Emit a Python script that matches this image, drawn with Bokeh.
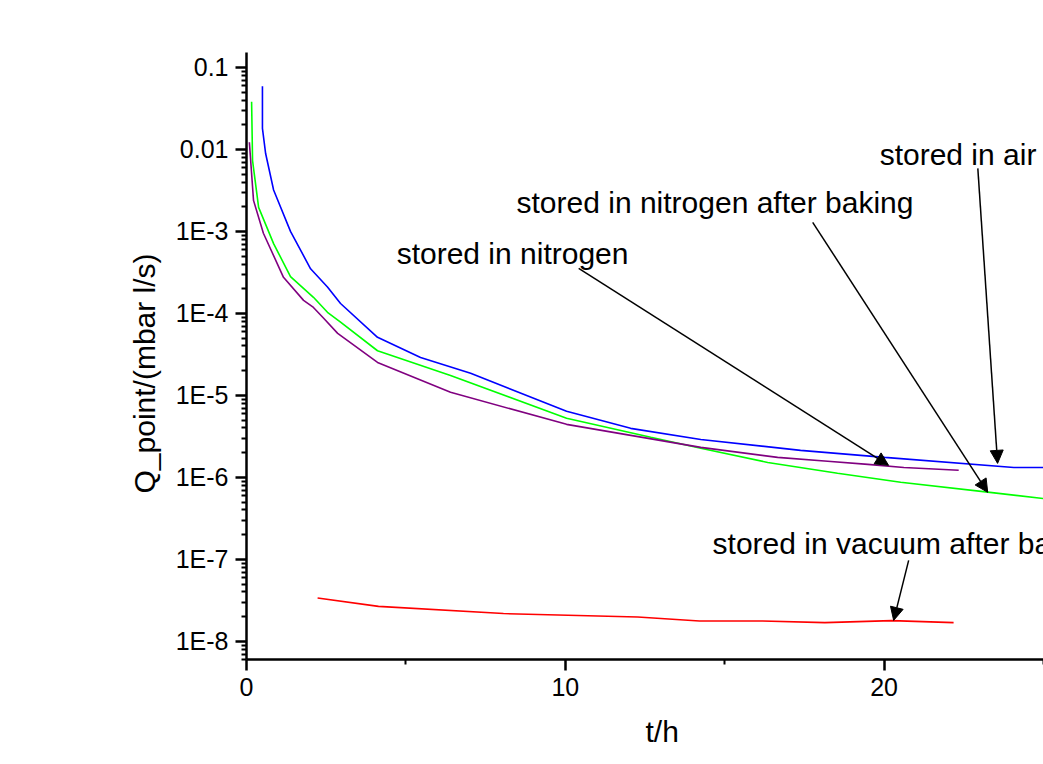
from bokeh.core.properties import value
from bokeh.embed import file_html
from bokeh.models import (Arrow, ColumnDataSource, CustomJSTickFormatter, FixedTicker,
                          NormalHead, Range1d, Title)
from bokeh.plotting import figure
from bokeh.resources import INLINE

# Pump-down time (h) and outgassing rate Q (mbar l/s) of the stored samples
t_air = [0.50, 0.50, 0.60, 0.85, 1.38, 2.01, 2.54, 2.95, 4.11, 5.46, 7.03, 10.04,
         12.05, 14.25, 17.38, 20.02, 24.07, 25.0]
q_air = [5.9e-2, 1.8e-2, 8.9e-3, 3.2e-3, 1.0e-3, 3.5e-4, 2.1e-4, 1.32e-4, 5.1e-5,
         2.9e-5, 1.86e-5, 6.4e-6, 3.96e-6, 2.9e-6, 2.13e-6, 1.75e-6, 1.32e-6, 1.32e-6]

t_n2_baked = [0.16, 0.19, 0.38, 0.85, 1.38, 2.10, 2.54, 2.95, 4.11, 6.40, 10.04,
              12.68, 14.25, 16.35, 18.54, 20.52, 23.25, 25.0]
q_n2_baked = [3.8e-2, 7.3e-3, 1.96e-3, 7.1e-4, 2.8e-4, 1.57e-4, 1.03e-4, 7.8e-5,
              3.5e-5, 1.75e-5, 5.25e-6, 3.08e-6, 2.26e-6, 1.52e-6, 1.12e-6, 8.7e-7,
              6.6e-7, 5.5e-7]

t_n2 = [0.09, 0.22, 0.53, 1.16, 1.79, 2.10, 2.42, 2.86, 4.11, 6.40, 10.04, 14.25,
        16.66, 18.23, 19.49, 20.62, 22.34]
q_n2 = [1.22e-2, 2.39e-3, 9.5e-4, 2.75e-4, 1.44e-4, 1.18e-4, 8.7e-5, 5.7e-5, 2.52e-5,
        1.09e-5, 4.43e-6, 2.32e-6, 1.75e-6, 1.57e-6, 1.44e-6, 1.32e-6, 1.22e-6]

t_vac_baked = [2.23, 4.14, 8.06, 12.27, 14.21, 16.19, 18.14, 20.24, 22.18]
q_vac_baked = [3.37e-8, 2.67e-8, 2.18e-8, 1.98e-8, 1.77e-8, 1.77e-8, 1.69e-8,
               1.79e-8, 1.69e-8]

# Axis ticks
x_major = [0, 10, 20]
x_minor = [5, 15, 25]
y_major = [1e-8, 1e-7, 1e-6, 1e-5, 1e-4, 1e-3, 1e-2, 1e-1]
y_labels = ["1E-8", "1E-7", "1E-6", "1E-5", "1E-4", "1E-3", "0.01", "0.1"]

# Callout texts and their arrows
note_text = ["stored in air", "stored in nitrogen after baking", "stored in nitrogen",
             "stored in vacuum after baking"]
note_x = [19.86, 8.47, 4.71, 14.62]
note_y = [8.6e-3, 2.24e-3, 5.37e-4, 1.55e-7]
arrow_x0 = [22.94, 17.76, 10.42, 20.77]
arrow_y0 = [5.86e-3, 1.29e-3, 3.54e-4, 9.7e-8]
arrow_x1 = [23.56, 23.25, 20.14, 20.30]
arrow_y1 = [1.48e-6, 6.56e-7, 1.40e-6, 1.80e-8]

FONT = "Liberation Sans"

p = figure(width=1043, height=764, y_axis_type="log",
           x_range=Range1d(0, 25), y_range=Range1d(6.0e-9, 0.152),
           output_backend="svg", toolbar_location=None,
           min_border_left=246, min_border_right=0, min_border_top=52,
           min_border_bottom=105)
p.outline_line_color = None
p.grid.visible = False
p.background_fill_color = "white"
p.border_fill_color = "white"

# x axis
xa = p.xaxis[0]
xa.ticker = FixedTicker(ticks=x_major, minor_ticks=x_minor)
# y axis
ya = p.yaxis[0]
y_minor = [m * 10.0 ** e for e in range(-9, 0) for m in range(2, 10)]
ya.ticker = FixedTicker(ticks=y_major, minor_ticks=y_minor)
ya.formatter = CustomJSTickFormatter(args=dict(vals=y_major, labs=y_labels), code="""
    for (let i = 0; i < vals.length; i++) {
        if (Math.abs(Math.log10(tick) - Math.log10(vals[i])) < 1e-6) return labs[i];
    }
    return "";
""")

for ax in (xa, ya):
    ax.axis_line_width = 2.5
    ax.axis_line_color = "black"
    ax.major_tick_line_width = 2.5
    ax.major_tick_line_color = "black"
    ax.minor_tick_line_width = 2
    ax.minor_tick_line_color = "black"
    ax.major_tick_in = 0
    ax.minor_tick_in = 0
    ax.major_tick_out = 11
    ax.minor_tick_out = 5
    ax.major_label_text_font = FONT
    ax.major_label_text_font_size = "25px"
    ax.major_label_text_color = "black"
    ax.major_label_standoff = 7

# Axis titles, placed as side titles so they can sit off-centre
p.add_layout(Title(text="t/h", align="left", offset=399, standoff=29,
                   text_font=FONT, text_font_size="30px", text_font_style="normal",
                   text_color="black"), "below")
p.add_layout(Title(text="Q_point/(mbar l/s)", align="left", offset=166, standoff=23,
                   text_font=FONT, text_font_size="30px", text_font_style="normal",
                   text_color="black"), "left")

# Curves
p.line(t_air, q_air, line_color="#0000FF", line_width=1.6)
p.line(t_n2_baked, q_n2_baked, line_color="#00FF00", line_width=1.6)
p.line(t_n2, q_n2, line_color="#800080", line_width=1.6)
p.line(t_vac_baked, q_vac_baked, line_color="#FF0000", line_width=1.6)

# Callouts
notes = ColumnDataSource(dict(x=note_x, y=note_y, text=note_text))
p.text(x="x", y="y", text="text", source=notes, text_font=value(FONT),
       text_font_size=value("30px"), text_color="black", text_align="left",
       text_baseline="alphabetic")
arrows = ColumnDataSource(dict(x0=arrow_x0, y0=arrow_y0, x1=arrow_x1, y1=arrow_y1))
p.add_layout(Arrow(end=NormalHead(size=13, fill_color="black", line_color="black",
                                  line_width=1),
                   x_start="x0", y_start="y0", x_end="x1", y_end="y1",
                   source=arrows, line_color="black", line_width=1.5))

open("out.html", "w").write(file_html(p, INLINE))
